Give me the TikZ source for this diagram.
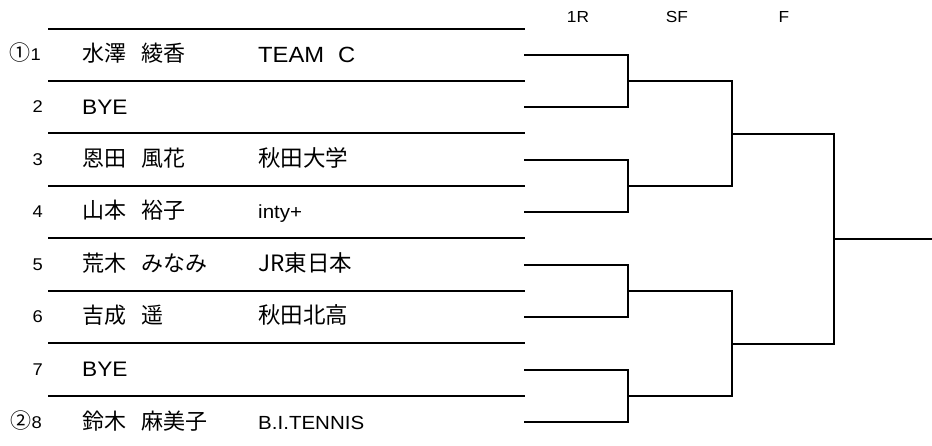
\documentclass[tikz,border=0pt]{standalone}
\usepackage{fontspec}
\setmainfont{Liberation Sans}[FakeStretch=1.08]
\newfontfamily\jp{Noto Sans CJK JP}
\newcommand{\gapA}{\hspace{15pt}}
\tikzset{
  rowrule/.style={line width=1.3pt},
  toprule/.style={line width=2pt},
  bk/.style={line width=2pt, line join=miter},
  num/.style={anchor=base east, inner sep=0pt, font=\fontsize{17}{17}\selectfont},
  pname/.style={anchor=base west, inner sep=0pt, font=\jp\fontsize{22}{22}\selectfont},
  latname/.style={anchor=base west, inner sep=0pt, font=\fontsize{21}{21}\selectfont},
  team/.style={anchor=base west, inner sep=0pt, font=\jp\fontsize{22.5}{22.5}\selectfont},
  lteam/.style={anchor=base west, inner sep=0pt, font=\fontsize{19}{19}\selectfont},
  hdr/.style={anchor=base, inner sep=0pt, font=\fontsize{16}{16}\selectfont},
}
\begin{document}
\begin{tikzpicture}[x=1pt,y=-1pt]
\useasboundingbox (0,0) rectangle (932,446);
% headers
\node[hdr] (h1) at (578,23) {1R};
\node[hdr] (h2) at (677,23) {SF};
\node[hdr] (h3) at (784,23) {F};
% table rules
\draw[toprule] (48,29) -- (525,29);
\foreach \y in {81,133,186,238,291,343,396} {\draw[rowrule] (48,\y) -- (525,\y);}
% numbers
\node[num] (num1) at (41,61) {{\jp\fontsize{21}{21}\selectfont ①}1};
\node[num] (num2) at (43,113) {2};
\node[num] (num3) at (43,166) {3};
\node[num] (num4) at (43,218) {4};
\node[num] (num5) at (43,271) {5};
\node[num] (num6) at (43,323) {6};
\node[num] (num7) at (43,376) {7};
\node[num] (num8) at (42,428) {{\jp\fontsize{21}{21}\selectfont ②}8};
% names
\node[pname] (n1) at (82,62) {水澤\gapA 綾香};
\node[latname] (n2) at (82,115) {BYE};
\node[pname] (n3) at (82,167) {恩田\gapA 風花};
\node[pname] (n4) at (82,219) {山本\gapA 裕子};
\node[pname] (n5) at (82,272) {荒木\gapA みなみ};
\node[pname] (n6) at (82,324) {吉成\gapA 遥};
\node[latname] (n7) at (82,377) {BYE};
\node[pname] (n8) at (82,429) {鈴木\gapA 麻美子};
% teams
\node[latname, font=\fontsize{22}{22}\selectfont] (t1) at (258,63) {TEAM\hspace{14pt}C};
\node[team] (t3) at (258,167) {秋田大学};
\node[lteam] (t4) at (258,219) {inty+};
\node[team] (t5) at (258,272) {JR東日本};
\node[team] (t6) at (258,324) {秋田北高};
\node[lteam] (t8) at (258,429) {B.I.TENNIS};
% bracket coordinates
\coordinate (e1) at (524,55);
\coordinate (e2) at (524,107);
\coordinate (e3) at (524,160);
\coordinate (e4) at (524,212);
\coordinate (e5) at (524,265);
\coordinate (e6) at (524,317);
\coordinate (e7) at (524,370);
\coordinate (e8) at (524,422);
\coordinate (m1) at (628,81);
\coordinate (m2) at (628,186);
\coordinate (m3) at (628,291);
\coordinate (m4) at (628,396);
\coordinate (s1) at (732,134);
\coordinate (s2) at (732,344);
\coordinate (f) at (834,239);
\coordinate (w) at (932,239);
% bracket
\draw[bk] (e1) -| (m1) |- (e2);
\draw[bk] (e3) -| (m2) |- (e4);
\draw[bk] (e5) -| (m3) |- (e6);
\draw[bk] (e7) -| (m4) |- (e8);
\draw[bk] (m1) -| (s1) |- (m2);
\draw[bk] (m3) -| (s2) |- (m4);
\draw[bk] (s1) -| (f) |- (s2);
\draw[bk] (f) -- (w);
\end{tikzpicture}
\end{document}
